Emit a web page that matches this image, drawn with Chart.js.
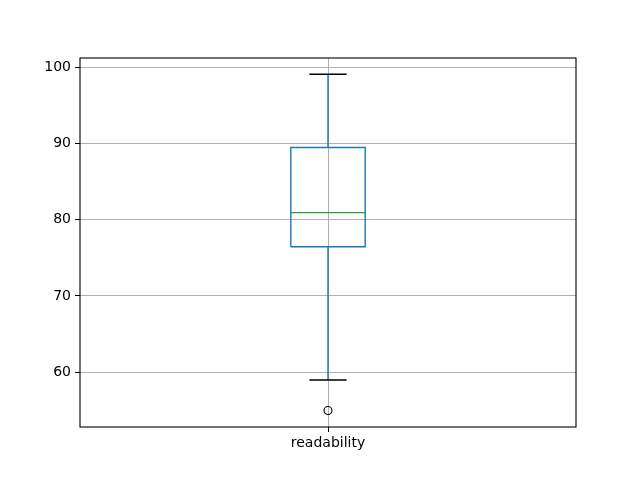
<!DOCTYPE html>
<html>
<head>
<meta charset="utf-8">
<script src="https://cdn.jsdelivr.net/npm/chart.js@4/dist/chart.umd.min.js"></script>
<style>
  body { margin: 0; background: #fff; }
</style>
</head>
<body>
<canvas id="chart" width="640" height="480"></canvas>
<script>
// box statistics, one entry per column
const categories = ['readability'];
const q1 = [76.45];
const median = [80.92];
const q3 = [89.45];
const whiskerLow = [58.98];
const whiskerHigh = [99.05];
const outliers = [[55.0]];
const yTicks = [60, 70, 80, 90, 100];

const boxHalf = 0.075;
const capHalf = 0.0375;

function boxOutline() {
  var pts = [];
  categories.forEach(function(c, i) {
    var x = i + 1;
    pts.push({x: x - boxHalf, y: q1[i]}, {x: x + boxHalf, y: q1[i]},
             {x: x + boxHalf, y: q3[i]}, {x: x - boxHalf, y: q3[i]},
             {x: x - boxHalf, y: q1[i]}, {x: NaN, y: NaN});
  });
  return pts;
}

function whiskers() {
  var pts = [];
  categories.forEach(function(c, i) {
    var x = i + 1;
    pts.push({x: x, y: q3[i]}, {x: x, y: whiskerHigh[i]}, {x: NaN, y: NaN},
             {x: x, y: q1[i]}, {x: x, y: whiskerLow[i]}, {x: NaN, y: NaN});
  });
  return pts;
}

function caps() {
  var pts = [];
  categories.forEach(function(c, i) {
    var x = i + 1;
    pts.push({x: x - capHalf, y: whiskerHigh[i]}, {x: x + capHalf, y: whiskerHigh[i]}, {x: NaN, y: NaN},
             {x: x - capHalf, y: whiskerLow[i]}, {x: x + capHalf, y: whiskerLow[i]}, {x: NaN, y: NaN});
  });
  return pts;
}

function medians() {
  var pts = [];
  categories.forEach(function(c, i) {
    var x = i + 1;
    pts.push({x: x - boxHalf, y: median[i]}, {x: x + boxHalf, y: median[i]}, {x: NaN, y: NaN});
  });
  return pts;
}

function fliers() {
  var pts = [];
  categories.forEach(function(c, i) {
    outliers[i].forEach(function(v) { pts.push({x: i + 1, y: v}); });
  });
  return pts;
}

var frame = {
  id: 'frame',
  afterDraw: function(chart) {
    var a = chart.chartArea, ctx = chart.ctx;
    ctx.save();
    ctx.strokeStyle = '#000';
    ctx.lineWidth = 1.1;
    ctx.strokeRect(a.left, a.top, a.right - a.left, a.bottom - a.top);
    ctx.restore();
  }
};

var font = {family: 'DejaVu Sans', size: 14};

new Chart(document.getElementById('chart'), {
  type: 'scatter',
  data: {
    datasets: [
      {data: medians(), showLine: true, borderColor: '#2ca02c', borderWidth: 1.4, pointRadius: 0, spanGaps: false},
      {data: caps(), showLine: true, borderColor: '#000', borderWidth: 1.4, pointRadius: 0, spanGaps: false},
      {data: boxOutline(), showLine: true, borderColor: '#1f77b4', borderWidth: 1.4, pointRadius: 0, spanGaps: false},
      {data: whiskers(), showLine: true, borderColor: '#1f77b4', borderWidth: 1.4, pointRadius: 0, spanGaps: false},
      {data: fliers(), showLine: false, pointRadius: 4, pointBorderColor: '#000', pointBorderWidth: 1.1,
       pointBackgroundColor: 'rgba(0,0,0,0)'}
    ]
  },
  options: {
    responsive: false,
    animation: false,
    layout: {padding: {left: 0, top: 58, right: 64, bottom: 0}},
    plugins: {legend: {display: false}, tooltip: {enabled: false}},
    scales: {
      x: {
        type: 'linear',
        min: 0.5,
        max: 1.5,
        afterBuildTicks: function(scale) {
          scale.ticks = categories.map(function(c, i) { return {value: i + 1}; });
        },
        afterFit: function(scale) { scale.height = 53; },
        ticks: {
          color: '#000', font: font, padding: 3, maxRotation: 0,
          callback: function(v) { return categories[Math.round(v) - 1]; }
        },
        grid: {color: '#b0b0b0', lineWidth: 1, tickColor: '#000', tickLength: 5},
        border: {display: false}
      },
      y: {
        min: 52.83,
        max: 101.18,
        afterBuildTicks: function(scale) {
          scale.ticks = yTicks.map(function(v) { return {value: v}; });
        },
        afterFit: function(scale) { scale.width = 80; },
        ticks: {color: '#000', font: font, padding: 4},
        grid: {color: '#b0b0b0', lineWidth: 1, tickColor: '#000', tickLength: 5},
        border: {display: false}
      }
    }
  },
  plugins: [frame]
});
</script>
</body>
</html>
